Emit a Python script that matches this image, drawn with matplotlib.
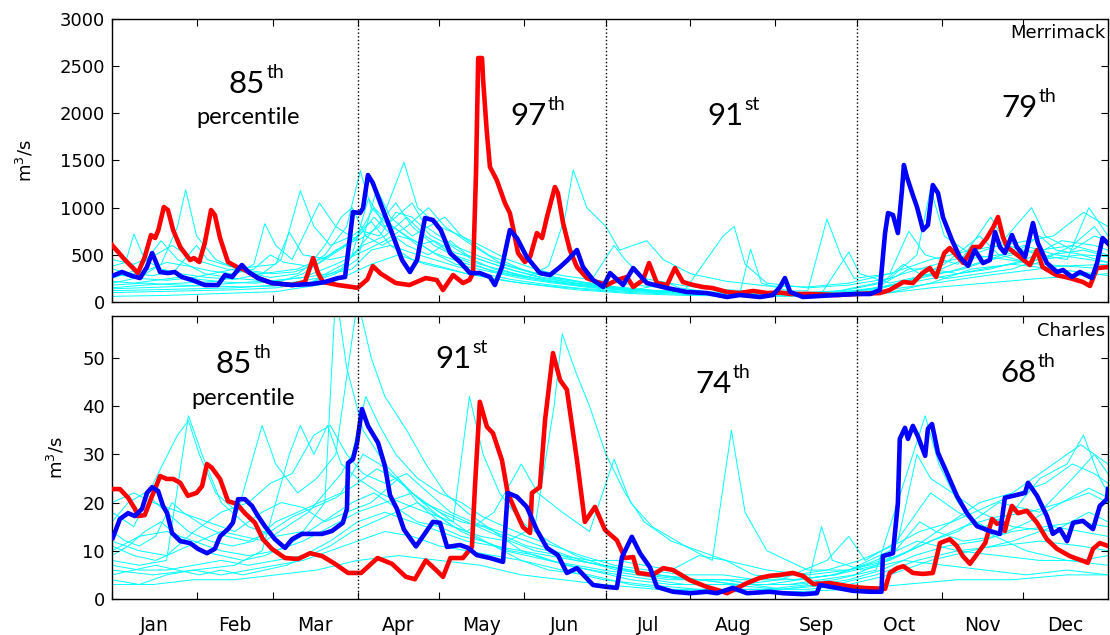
import matplotlib
matplotlib.use("Agg")
import matplotlib.pyplot as plt
import numpy as np

# Month boundaries (day of year) and labels
month_names = ['Jan', 'Feb', 'Mar', 'Apr', 'May', 'Jun',
               'Jul', 'Aug', 'Sep', 'Oct', 'Nov', 'Dec']
month_starts = [0, 31, 59, 90, 120, 151, 181, 212, 243, 273, 304, 334, 365]
season_breaks = [90, 181, 273]

# Seasonal percentile of the highlighted year, per river
merrimack_pct = [('85', 'th'), ('97', 'th'), ('91', 'st'), ('79', 'th')]
charles_pct = [('85', 'th'), ('91', 'st'), ('74', 'th'), ('68', 'th')]

# ---- Merrimack daily flow (day, m3/s) ----
merrimack_red = [
    (0, 604), (4.8, 445), (9.5, 307), (12, 477), (14.3, 710), (15.8, 678), (17, 763),
    (19, 1007), (20.5, 975), (22.4, 763), (25, 583), (28.6, 445), (30, 466), (32, 424),
    (34, 625), (36.3, 975), (37.7, 922), (39.6, 678), (42.5, 424), (45.8, 371), (48.7, 339),
    (53.5, 254), (58.6, 201), (66, 180), (70.7, 212), (72.6, 371), (73.7, 466), (75.5, 307),
    (77.3, 212), (82.8, 180), (88, 159), (90, 150), (93.6, 240), (95.6, 380), (98.5, 300),
    (104, 201), (109, 180), (115, 254), (119, 233), (121.3, 127), (125, 286), (128.6, 201),
    (131, 233), (132.3, 307), (133.4, 1367), (134.2, 2586), (135.6, 2586), (136, 2353),
    (137.3, 1823), (138.5, 1431), (141, 1293), (144, 1049), (145.8, 943), (146.9, 795),
    (148.8, 519), (151.3, 424), (153.2, 477), (155.7, 731), (157.6, 678), (159.4, 901),
    (162.3, 1219), (163.4, 1155), (165.3, 837), (167.8, 551), (170.4, 371), (174, 254),
    (177.7, 212), (181.4, 180), (185, 233), (188.7, 265), (191, 159), (194.6, 233),
    (196.8, 413), (199.7, 201), (203.4, 180), (206.3, 360), (209.2, 212), (213, 180),
    (216.6, 159), (220, 148), (225.4, 106), (230, 95), (235, 117), (240, 95), (245, 100),
    (248.5, 85), (255.8, 85), (265.7, 74), (273, 85), (281.4, 95), (285, 127), (290, 212),
    (293.5, 201), (297, 307), (299.7, 360), (302, 265), (305, 519), (307, 572), (312, 413),
    (315.5, 583), (318, 583), (320.6, 678), (323, 795), (324.7, 901), (326.5, 689),
    (328, 583), (332.7, 477), (336.4, 392), (339, 551), (341, 371), (346, 286), (351, 254),
    (355.8, 212), (358.4, 170), (361, 360), (365, 371),
]

merrimack_blue = [
    (0, 276), (3.7, 318), (7.3, 276), (10.3, 254), (12.8, 371), (14.7, 519), (15.8, 445),
    (17.6, 318), (20.5, 307), (23, 318), (25.6, 265), (29.3, 233), (34, 180), (38.8, 180),
    (41.4, 286), (44, 265), (47.6, 392), (50, 318), (53.5, 254), (58.6, 201), (66, 180),
    (73.3, 191), (78, 212), (82.8, 254), (85.4, 265), (87.2, 689), (88.3, 954), (90.9, 943),
    (92, 996), (93.8, 1346), (95.6, 1261), (98.9, 1007), (102.6, 731), (106.3, 445),
    (109.2, 318), (111.8, 445), (114.7, 890), (117.6, 869), (120.5, 763), (123.9, 519),
    (127.5, 424), (131.2, 307), (134.8, 307), (138.5, 265), (140.3, 180), (142.9, 371),
    (145.8, 763), (148.4, 678), (152, 477), (156.8, 307), (160.5, 286), (164.2, 371),
    (167, 445), (170.4, 551), (172.6, 371), (176.3, 233), (180, 159), (182.5, 307),
    (187.3, 180), (191, 360), (196, 201), (203.4, 148), (210.7, 106), (218, 95), (225.4, 53),
    (230, 74), (237.5, 53), (242.2, 74), (244.8, 159), (246.6, 254), (248.5, 106),
    (253.2, 53), (259.4, 64), (265.7, 74), (273, 85), (277.8, 85), (281.4, 127),
    (283.3, 731), (284.4, 943), (286.2, 922), (288, 731), (289.5, 1187), (290.2, 1452),
    (291.3, 1325), (293.1, 1166), (295, 1007), (297.2, 763), (299, 816), (300.8, 1240),
    (302.7, 1155), (304.5, 901), (307.8, 657), (310.7, 477), (313.7, 382), (316.2, 551),
    (319.2, 413), (321.7, 445), (323.6, 742), (325.4, 583), (327.2, 519), (329.8, 710),
    (331.6, 583), (334.6, 477), (337.5, 837), (339.3, 625), (342.6, 413), (346.3, 318),
    (348.5, 339), (351.8, 265), (354.7, 318), (359.1, 254), (361, 413), (363, 678), (365, 620),
]

# other years (thin cyan)
merrimack_years = [
    [(0, 380), (5, 420), (8, 720), (12, 450), (18, 350), (25, 300), (35, 260), (45, 240),
     (55, 300), (62, 450), (69, 1180), (74, 800), (80, 600), (88, 700), (95, 850), (102, 600),
     (110, 450), (120, 380), (130, 300), (145, 220), (160, 170), (175, 130), (190, 100),
     (210, 80), (230, 70), (250, 70), (265, 90), (280, 150), (295, 220), (310, 300),
     (325, 380), (340, 450), (355, 500), (365, 420)],
    [(0, 200), (10, 260), (18, 400), (24, 800), (27, 1190), (31, 700), (38, 450), (48, 320),
     (58, 260), (68, 300), (78, 500), (86, 800), (91, 1390), (95, 1000), (100, 850),
     (108, 700), (118, 520), (128, 420), (140, 330), (152, 260), (160, 380), (166, 900),
     (169, 1400), (174, 1000), (181, 800), (186, 550), (196, 650), (202, 450), (212, 300),
     (225, 220), (240, 170), (255, 160), (270, 200), (285, 300), (300, 450), (315, 550),
     (330, 620), (345, 700), (356, 950), (365, 800)],
    [(0, 150), (12, 180), (25, 200), (40, 220), (52, 400), (56, 830), (60, 600), (66, 450),
     (76, 1050), (82, 800), (90, 650), (98, 800), (107, 1480), (112, 1000), (120, 800),
     (128, 700), (135, 600), (145, 450), (155, 350), (165, 280), (180, 220), (195, 170),
     (210, 130), (224, 700), (228, 800), (232, 400), (240, 200), (255, 150), (270, 180),
     (285, 250), (295, 500), (300, 1200), (305, 700), (315, 500), (325, 600), (337, 1000),
     (342, 700), (352, 550), (360, 700), (365, 650)],
    [(0, 300), (10, 250), (20, 230), (30, 260), (45, 350), (60, 400), (65, 740), (70, 500),
     (80, 450), (88, 500), (94, 1100), (100, 800), (110, 1050), (115, 800), (125, 600),
     (135, 480), (145, 380), (155, 300), (165, 250), (175, 200), (184, 600), (188, 450),
     (195, 250), (210, 170), (225, 130), (240, 110), (255, 120), (262, 880), (267, 500),
     (272, 250), (285, 300), (292, 750), (298, 500), (310, 400), (322, 900), (328, 600),
     (340, 500), (350, 450), (358, 1000), (365, 700)],
    [(0, 120), (15, 130), (30, 140), (45, 150), (60, 180), (75, 250), (85, 400), (92, 600),
     (100, 700), (108, 900), (115, 700), (125, 500), (135, 400), (148, 300), (160, 220),
     (175, 160), (190, 120), (210, 90), (230, 80), (234, 560), (238, 200), (250, 100),
     (270, 90), (285, 100), (300, 200), (315, 350), (330, 400), (345, 350), (360, 300),
     (365, 280)],
    [(0, 100), (15, 110), (30, 120), (45, 130), (60, 150), (72, 200), (82, 300), (90, 450),
     (97, 1200), (102, 900), (110, 700), (122, 900), (128, 700), (138, 500), (150, 350),
     (162, 250), (178, 180), (192, 130), (205, 100), (220, 90), (240, 80), (260, 90),
     (270, 530), (274, 300), (285, 200), (300, 300), (312, 450), (325, 500), (340, 550),
     (352, 600), (365, 500)],
    [(0, 450), (8, 400), (16, 500), (22, 600), (30, 450), (42, 350), (55, 300), (68, 350),
     (80, 500), (90, 700), (96, 1000), (103, 800), (112, 600), (118, 650), (126, 520),
     (135, 450), (145, 350), (158, 250), (170, 200), (185, 150), (200, 120), (215, 110),
     (230, 100), (248, 90), (265, 100), (280, 150), (292, 350), (300, 350), (310, 300),
     (322, 350), (335, 450), (348, 650), (360, 600), (365, 550)],
    [(0, 250), (10, 350), (18, 650), (24, 450), (34, 300), (45, 250), (58, 220), (70, 260),
     (82, 400), (93, 550), (100, 650), (108, 800), (116, 1000), (122, 800), (132, 600),
     (142, 420), (155, 300), (170, 220), (185, 160), (200, 120), (218, 100), (235, 90),
     (250, 90), (265, 110), (280, 200), (290, 300), (302, 400), (315, 500), (328, 450),
     (340, 400), (350, 380), (365, 350)],
    [(0, 180), (12, 200), (24, 180), (36, 170), (48, 160), (60, 170), (72, 200), (84, 350),
     (94, 700), (104, 1050), (110, 800), (118, 600), (128, 450), (140, 320), (155, 240),
     (170, 180), (185, 140), (200, 110), (218, 90), (235, 80), (255, 80), (275, 100),
     (290, 200), (305, 400), (318, 700), (325, 500), (338, 400), (352, 600), (360, 800),
     (365, 600)],
    [(0, 60), (20, 70), (40, 90), (60, 110), (80, 200), (95, 400), (105, 500), (115, 400),
     (130, 300), (150, 200), (170, 130), (190, 90), (210, 70), (235, 60), (260, 60),
     (280, 80), (300, 150), (320, 200), (340, 250), (365, 300)],
    [(0, 300), (6, 280), (14, 350), (20, 420), (28, 380), (36, 330), (44, 300), (52, 350),
     (58, 500), (63, 420), (72, 380), (78, 600), (84, 900), (88, 1000), (93, 700), (99, 600),
     (105, 700), (111, 650), (119, 500), (126, 400), (134, 350), (142, 300), (150, 250),
     (162, 200), (176, 150), (190, 120), (204, 200), (208, 150), (220, 100), (236, 90),
     (252, 100), (268, 120), (282, 200), (290, 400), (296, 300), (306, 250), (318, 300),
     (330, 350), (344, 500), (356, 550), (365, 480)],
    [(0, 220), (8, 200), (16, 230), (24, 260), (32, 240), (42, 210), (52, 200), (62, 220),
     (70, 300), (78, 450), (86, 600), (92, 750), (98, 700), (104, 950), (110, 900),
     (117, 700), (124, 600), (132, 450), (140, 350), (150, 280), (162, 220), (176, 170),
     (190, 130), (206, 110), (222, 90), (240, 80), (256, 90), (272, 110), (286, 180),
     (300, 280), (312, 350), (322, 450), (334, 600), (346, 500), (358, 450), (365, 420)],
    [(0, 140), (10, 150), (20, 160), (30, 170), (40, 190), (50, 210), (60, 230), (70, 260),
     (80, 300), (88, 350), (95, 550), (102, 600), (110, 520), (118, 450), (126, 380),
     (136, 300), (146, 240), (158, 190), (170, 150), (184, 120), (198, 100), (214, 90),
     (230, 80), (246, 75), (262, 80), (278, 110), (292, 160), (306, 220), (320, 280),
     (334, 330), (348, 380), (365, 400)],
    [(0, 350), (7, 300), (15, 280), (23, 330), (31, 600), (35, 450), (43, 380), (51, 330),
     (59, 300), (67, 320), (75, 400), (82, 550), (89, 650), (96, 900), (101, 750), (108, 600),
     (116, 500), (124, 650), (130, 500), (138, 420), (148, 330), (158, 260), (170, 200),
     (183, 150), (196, 120), (212, 100), (228, 90), (244, 85), (260, 90), (276, 120),
     (288, 200), (298, 280), (308, 330), (318, 420), (330, 500), (340, 700), (346, 550),
     (356, 500), (365, 480)],
]

# ---- Charles daily flow (day, m3/s) ----
charles_red = [
    (0, 22.8), (2.9, 22.8), (5.9, 21), (8.4, 18.7), (9.5, 17.2), (12, 17.4), (14.7, 21.4),
    (15.8, 22.8), (17.6, 25.5), (20, 24.9), (22.4, 24.9), (25, 24.1), (27.8, 21.4), (31, 22),
    (33, 23.4), (34.8, 28), (36.6, 27.2), (39.6, 24.9), (42.5, 20.3), (45.8, 19.7),
    (48.7, 17.8), (52.4, 15.8), (55.3, 12.4), (58.6, 10.4), (63.4, 8.5), (68.2, 8.3),
    (72.6, 9.5), (77, 8.9), (81.7, 7.3), (86.5, 5.4), (91.3, 5.4), (97.3, 8.5), (102.6, 7.3),
    (107.7, 4.6), (111, 4.1), (115, 8), (118.4, 6.2), (121.3, 4.6), (124, 8.5), (128.6, 8.5),
    (131.9, 10.8), (133, 23.2), (134.8, 40.9), (137.4, 35.7), (139.6, 34.4), (142.9, 28.8),
    (145, 22), (147.7, 18.5), (150.6, 14.9), (153.2, 13.7), (153.9, 22), (156.8, 23.2),
    (158.7, 37.1), (161.6, 51), (164.2, 45.4), (166.7, 43.4), (170.4, 28.8), (173.3, 16),
    (177, 19.1), (180.7, 14.3), (185, 12.2), (188, 8.5), (191, 8.7), (192.7, 5.4), (198.2, 5),
    (202, 6.4), (205.6, 6), (211.8, 3.9), (218, 2.5), (222.8, 1.7), (225.4, 1.2),
    (232.7, 3.3), (237.5, 4.4), (241, 4.8), (244.8, 5), (249.5, 5.4), (253.2, 4.8),
    (257, 3.1), (263, 3.3), (269.3, 2.7), (275.2, 2.3), (283.3, 2.1), (285, 5.4),
    (287.7, 6.4), (290, 6.8), (293.5, 5.4), (297.2, 5.2), (300.8, 5.4), (302.3, 8.9),
    (303.4, 11.6), (307, 12.4), (309.6, 11), (311.8, 8.9), (314.4, 7.3), (317, 9.3),
    (320, 11.6), (322.5, 16.6), (324.3, 15.6), (326.5, 15.8), (327.2, 14.1), (328.3, 16.6),
    (329.8, 19.3), (332, 17.8), (335.3, 18.3), (339, 15.8), (342.6, 12.4), (346.3, 10.4),
    (351, 8.9), (355.8, 7.9), (357.6, 7.5), (359.5, 10.4), (362, 11.6), (365, 11),
]

charles_blue = [
    (0.3, 12.7), (2.9, 16.6), (5.9, 17.8), (8.4, 17.2), (11, 18.7), (12.8, 22), (14.7, 23.2),
    (16.9, 22.4), (18.7, 19.3), (20.2, 17.8), (22, 13.7), (25, 12), (28.6, 11.6),
    (31.5, 10.4), (34.8, 9.5), (37.7, 10.4), (39.6, 13), (42.5, 14.5), (44.3, 15.8),
    (46.2, 20.7), (48.7, 20.7), (51.3, 19.3), (53.5, 17.2), (56, 15.1), (59.7, 12.4),
    (63.4, 10.6), (66, 12.4), (69.6, 13.5), (73.3, 13.5), (77, 13.5), (80.6, 14.1),
    (84.6, 15.8), (86.1, 18.7), (86.5, 28.2), (88.3, 29), (89.8, 32.4), (91.6, 39.4),
    (93.8, 35.9), (97.5, 32.4), (100, 27.6), (101.9, 21.5), (104.4, 18.7), (107, 14.4),
    (111.4, 10.9), (114.2, 13.2), (117.6, 16), (120.2, 15.8), (122.8, 10.8), (127.5, 11.2),
    (130.5, 10.6), (133.7, 9.1), (138.5, 8.5), (143.3, 7.7), (145, 22), (148.4, 21.2),
    (152, 19.1), (155.7, 14.3), (159.4, 10.6), (163.4, 9.1), (166.7, 5.4), (170.4, 6.4),
    (176.3, 2.9), (181.4, 2.5), (185, 2.3), (186.9, 8.7), (190.5, 12.9), (193.5, 9.5),
    (197.1, 6.6), (199.7, 2.5), (205.6, 1.5), (211.8, 1.2), (218, 1.5), (221.7, 1.2),
    (227.5, 2.3), (232.7, 1.2), (241, 1.5), (246, 1.2), (253.2, 1.0), (258.3, 1.2),
    (259.4, 2.9), (265.7, 2.3), (271.5, 1.7), (277.8, 1.5), (282, 1.5), (282.5, 8.9),
    (286.2, 9.5), (288, 19.9), (288.7, 33.2), (290.6, 35.5), (291.7, 33.2), (293.5, 35.9),
    (295.3, 33.8), (298, 29.7), (299, 35.3), (300.5, 36.3), (302.7, 30.3), (306, 26.1),
    (309.6, 21.4), (313.3, 17.8), (317, 15.1), (321.7, 14.1), (325.4, 13.5), (327.2, 21),
    (330.2, 21.4), (334.6, 22), (335.7, 24.1), (339, 21.4), (342.6, 17.2), (344.8, 13.5),
    (347.4, 14.5), (350, 12), (352.2, 15.8), (355.8, 16.2), (359.5, 14.5), (362, 19.3),
    (364.6, 20.7), (365, 22.8),
]

charles_years = [
    [(0, 8), (10, 7), (20, 8), (28, 38), (33, 30), (40, 20), (50, 15), (60, 13), (70, 14),
     (78, 20), (82, 64), (86, 48), (92, 35), (100, 28), (110, 22), (120, 18), (130, 14),
     (140, 11), (150, 8), (165, 6), (180, 4), (195, 3), (215, 2), (235, 2), (255, 2),
     (270, 3), (285, 5), (300, 8), (315, 10), (330, 12), (345, 15), (365, 13)],
    [(0, 18), (8, 15), (16, 25), (24, 34), (28, 37), (32, 30), (38, 22), (46, 18), (55, 36),
     (60, 28), (68, 22), (75, 25), (82, 30), (90, 62), (95, 50), (100, 42), (108, 35),
     (115, 28), (122, 22), (130, 18), (140, 14), (150, 10), (160, 8), (175, 6), (190, 4),
     (205, 3), (225, 3), (245, 2), (265, 3), (280, 5), (295, 8), (310, 10), (325, 11),
     (340, 12), (355, 11), (365, 10)],
    [(0, 6), (15, 5), (30, 6), (45, 7), (55, 10), (65, 30), (69, 36), (74, 30), (79, 36),
     (84, 28), (90, 25), (98, 22), (106, 20), (115, 18), (125, 16), (131, 42), (136, 30),
     (142, 22), (150, 16), (160, 12), (170, 9), (180, 7), (195, 5), (210, 4), (225, 4),
     (235, 3), (250, 3), (265, 4), (280, 6), (298, 38), (303, 28), (310, 20), (320, 14),
     (335, 10), (350, 8), (365, 7)],
    [(0, 10), (10, 13), (20, 14), (30, 12), (40, 10), (50, 9), (60, 10), (70, 12), (80, 15),
     (90, 18), (100, 20), (110, 22), (118, 18), (125, 15), (135, 13), (145, 12), (155, 15),
     (162, 40), (165, 55), (170, 47), (175, 40), (181, 30), (188, 22), (195, 16), (205, 12),
     (215, 10), (225, 8), (240, 6), (255, 5), (270, 6), (285, 10), (300, 22), (310, 18),
     (320, 15), (330, 18), (340, 25), (350, 28), (356, 34), (362, 25), (365, 22)],
    [(0, 20), (8, 22), (15, 20), (25, 18), (35, 16), (45, 14), (55, 18), (62, 20), (70, 19),
     (78, 16), (86, 18), (95, 20), (105, 25), (112, 20), (120, 16), (130, 14), (140, 18),
     (150, 28), (156, 22), (165, 18), (175, 14), (184, 29), (190, 20), (198, 15), (210, 11),
     (220, 8), (227, 35), (232, 18), (240, 10), (255, 6), (270, 6), (285, 8), (300, 12),
     (310, 14), (325, 20), (340, 18), (352, 25), (360, 30), (365, 26)],
    [(0, 4), (10, 3), (20, 5), (30, 6), (40, 5), (50, 6), (60, 7), (70, 8), (80, 10), (90, 12),
     (100, 14), (110, 13), (120, 11), (130, 10), (140, 9), (150, 8), (160, 6), (175, 5),
     (190, 3), (205, 2), (220, 2), (240, 2), (255, 3), (260, 15), (264, 8), (275, 6),
     (290, 8), (305, 7), (320, 6), (335, 5), (350, 6), (365, 5)],
    [(0, 12), (10, 10), (20, 9), (30, 14), (40, 18), (50, 20), (58, 24), (66, 26), (74, 34),
     (80, 36), (86, 30), (92, 26), (100, 24), (108, 26), (116, 22), (124, 18), (132, 16),
     (142, 14), (152, 12), (162, 10), (172, 8), (185, 6), (200, 5), (215, 4), (230, 3),
     (245, 4), (262, 8), (270, 13), (276, 8), (288, 12), (295, 30), (300, 25), (308, 22),
     (318, 18), (330, 15), (345, 14), (358, 18), (365, 16)],
    [(0, 7), (10, 6), (20, 6), (30, 7), (40, 8), (50, 7), (60, 8), (70, 9), (80, 12), (90, 16),
     (100, 18), (110, 16), (120, 14), (130, 12), (140, 11), (150, 10), (160, 9), (170, 8),
     (180, 7), (190, 6), (200, 5), (215, 4), (230, 4), (250, 4), (265, 5), (280, 8),
     (295, 12), (310, 10), (325, 9), (340, 8), (355, 8), (365, 9)],
    [(0, 16), (6, 20), (12, 22), (20, 18), (28, 14), (36, 12), (44, 11), (52, 12), (60, 16),
     (68, 18), (76, 20), (84, 22), (92, 30), (98, 28), (106, 24), (114, 20), (122, 18),
     (130, 16), (138, 14), (146, 12), (155, 10), (165, 9), (175, 8), (185, 8), (195, 7),
     (205, 6), (215, 9), (225, 8), (235, 5), (250, 4), (265, 5), (280, 7), (292, 10),
     (305, 15), (318, 20), (330, 22), (345, 28), (355, 32), (365, 28)],
    [(0, 3), (15, 3), (30, 4), (45, 4), (60, 5), (75, 6), (90, 8), (105, 9), (120, 8),
     (135, 7), (150, 5), (165, 4), (180, 3), (200, 2), (220, 1.5), (250, 1.5), (270, 2),
     (290, 3), (310, 4), (330, 4), (350, 5), (365, 5)],
    [(0, 9), (6, 11), (12, 14), (18, 16), (24, 13), (32, 10), (40, 9), (48, 8), (56, 9),
     (64, 11), (72, 14), (80, 17), (88, 20), (96, 22), (104, 19), (112, 16), (120, 15),
     (128, 13), (136, 12), (144, 10), (152, 9), (160, 8), (170, 7), (180, 6), (192, 5),
     (204, 4), (216, 4), (228, 3), (240, 3), (252, 4), (264, 5), (276, 7), (288, 9),
     (300, 12), (312, 15), (324, 17), (336, 18), (348, 20), (358, 23), (365, 21)],
    [(0, 14), (5, 12), (10, 11), (16, 13), (22, 20), (26, 18), (34, 15), (42, 13), (50, 12),
     (58, 14), (66, 17), (74, 19), (82, 21), (90, 24), (97, 27), (104, 25), (112, 21),
     (120, 18), (128, 16), (136, 15), (144, 13), (152, 11), (160, 10), (170, 8), (180, 7),
     (190, 6), (200, 5), (212, 4), (224, 4), (236, 3), (248, 3), (260, 4), (272, 5),
     (284, 8), (296, 16), (302, 14), (312, 12), (324, 13), (336, 16), (348, 20), (358, 22),
     (365, 20)],
    [(0, 5), (8, 6), (16, 7), (24, 6), (32, 5), (40, 6), (48, 5), (56, 6), (64, 7), (72, 9),
     (80, 11), (88, 14), (96, 16), (104, 18), (112, 20), (120, 17), (128, 14), (136, 12),
     (146, 10), (156, 9), (166, 7), (176, 6), (186, 5), (198, 4), (210, 3), (222, 3),
     (234, 3), (246, 2), (258, 3), (270, 4), (282, 6), (294, 9), (306, 11), (318, 12),
     (330, 14), (342, 15), (354, 16), (365, 15)],
    [(0, 11), (8, 9), (16, 8), (24, 10), (32, 12), (40, 14), (48, 13), (56, 12), (64, 15),
     (72, 18), (78, 22), (84, 26), (88, 30), (93, 42), (98, 36), (104, 30), (112, 25),
     (120, 22), (128, 20), (136, 17), (144, 15), (152, 13), (162, 11), (172, 9), (184, 7),
     (196, 6), (210, 5), (224, 5), (236, 4), (250, 5), (262, 6), (274, 8), (286, 11),
     (296, 14), (308, 16), (320, 19), (332, 22), (342, 24), (352, 28), (360, 26), (365, 24)],
]

LBL = 'DejaVu Sans'
NUM = 'Lato'


def draw_panel(ax, years, red, blue, ymax, yticks, name, pct, spots, ylab_x):
    for yr in years:
        d, q = np.array(yr).T
        ax.plot(d, q, color='cyan', lw=0.7, zorder=1)
    d, q = np.array(red).T
    ax.plot(d, q, color='red', lw=3.3, zorder=3)
    d, q = np.array(blue).T
    ax.plot(d, q, color='blue', lw=3.3, zorder=4)

    for x in season_breaks:
        ax.axvline(x, color='black', ls=':', lw=1.0, zorder=5)

    ax.set_xlim(0, 365)
    ax.set_ylim(0, ymax)
    ax.set_yticks(yticks)
    ax.set_xticks(month_starts)
    ax.set_xticklabels([])
    ax.tick_params(which='major', direction='in', top=True, right=True,
                   length=5, width=0.8, labelsize=13, pad=5)
    for lab in ax.get_yticklabels():
        lab.set_family(LBL)
    for s in ax.spines.values():
        s.set_linewidth(1.0)

    ax.set_ylabel('m$^3$/s', fontsize=13, family=LBL)
    ax.yaxis.set_label_coords(ylab_x, 0.5)

    ax.text(0.997, spots['name'], name, transform=ax.transAxes, ha='right',
            va='center', fontsize=13, family=LBL)

    # percentile labels with raised suffix
    for (num, sup), (x, y) in zip(pct, spots['pct']):
        t = ax.text(x, y, num, transform=ax.transAxes, ha='center',
                    va='baseline', fontsize=22.5, family=NUM, zorder=6)
        ax.annotate(sup, xy=(1, 1), xycoords=t, xytext=(1, 6),
                    textcoords='offset pixels', ha='left', va='top',
                    fontsize=14, family=NUM, zorder=6)
    px, py = spots['percentile']
    ax.text(px, py, 'percentile', transform=ax.transAxes, ha='center',
            va='baseline', fontsize=17, family=NUM, zorder=6)


fig = plt.figure(figsize=(11.1, 6.35), dpi=100)
ax1 = fig.add_axes([0.1009, 0.5244, 0.8973, 0.4457])
ax2 = fig.add_axes([0.1009, 0.0567, 0.8973, 0.4457])

draw_panel(ax1, merrimack_years, merrimack_red, merrimack_blue, 3000,
           np.arange(0, 3001, 500), 'Merrimack', merrimack_pct,
           {'name': 0.951,
            'pct': [(0.1355, 0.740), (0.418, 0.625), (0.616, 0.625), (0.911, 0.654)],
            'percentile': (0.1365, 0.629)},
           -0.077)

draw_panel(ax2, charles_years, charles_red, charles_blue, 58.7,
           np.arange(0, 51, 10), 'Charles', charles_pct,
           {'name': 0.947,
            'pct': [(0.1225, 0.799), (0.343, 0.816), (0.604, 0.728), (0.910, 0.767)],
            'percentile': (0.1315, 0.686)},
           -0.046)

# month names centred between the boundary ticks
mids = [(a + b) / 2 for a, b in zip(month_starts[:-1], month_starts[1:])]
ax2.set_xticks(mids, minor=True)
ax2.set_xticklabels(month_names, minor=True, family=LBL)
ax2.tick_params(axis='x', which='minor', length=0, pad=12, labelsize=13.5)
ax1.tick_params(axis='x', which='minor', length=0)

fig.savefig('out.png', dpi=100)
